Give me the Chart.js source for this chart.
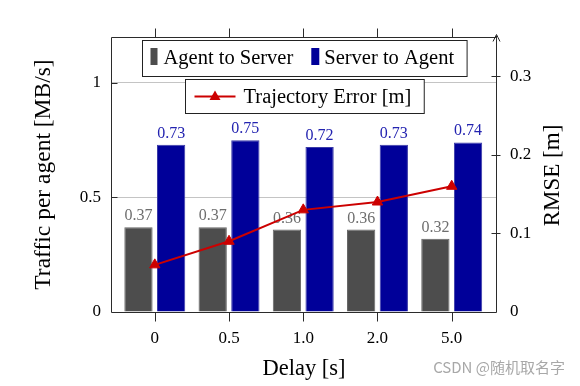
<!DOCTYPE html>
<html lang="en">
<head>
<meta charset="UTF-8">
<title>Traffic per agent vs delay</title>
<script src="https://cdn.jsdelivr.net/npm/chart.js"></script>
<style>
  body { margin: 0; background: #fff; }
  #wrap { width: 580px; height: 386px; }
</style>
</head>
<body>
<div id="wrap"><canvas id="chart" width="580" height="386"></canvas></div>
<script>
  // values
  const delays = ['0', '0.5', '1.0', '2.0', '5.0'];
  const agentToServer = [0.37, 0.37, 0.36, 0.36, 0.32];
  const serverToAgent = [0.73, 0.75, 0.72, 0.73, 0.74];
  const trajectoryError = [0.06, 0.09, 0.13, 0.14, 0.16];
  const trafficTicks = [0, 0.5, 1];
  const rmseTicks = [0, 0.1, 0.2, 0.3];
  const rmseTitle = 'RMSE [m]';

  const serif = '"Liberation Serif", "DejaVu Serif", serif';
  Chart.defaults.font.family = serif;
  Chart.defaults.color = '#000';

  const toPoints = arr => arr.map((v, i) => ({ x: i, y: v }));

  // numbers above the bars (drawn before the line so the line sits on top)
  const barLabels = {
    id: 'barLabels',
    afterDatasetDraw(chart, args) {
      const ds = chart.data.datasets[args.index];
      if (ds.type !== 'bar') return;
      const ctx = chart.ctx;
      ctx.save();
      ctx.font = '16px ' + serif;
      ctx.fillStyle = ds.labelColor;
      ctx.textAlign = 'center';
      ctx.textBaseline = 'alphabetic';
      args.meta.data.forEach((bar, i) => {
        ctx.fillText(ds.data[i].y.toFixed(2), bar.x, bar.y - 7);
      });
      ctx.restore();
    }
  };

  // box frame, tick marks, the arrow on the right axis and its title
  const axisFrame = {
    id: 'axisFrame',
    afterDatasetsDraw(chart) {
      const { ctx, chartArea: a, scales } = chart;
      const L = a.left + 0.5, R = Math.round(a.right) - 0.5, T = a.top + 0.5, B = a.bottom + 0.5;
      ctx.save();
      ctx.strokeStyle = '#2b2b2b';
      ctx.lineWidth = 1;
      ctx.beginPath();
      ctx.moveTo(L, T); ctx.lineTo(L, B); ctx.lineTo(R, B);
      ctx.moveTo(L, T); ctx.lineTo(R, T);
      ctx.moveTo(R, B); ctx.lineTo(R, T - 2);
      scales.x.ticks.forEach(t => {
        const px = Math.round(scales.x.getPixelForValue(t.value)) + 0.5;
        ctx.moveTo(px, T - 9); ctx.lineTo(px, T);
        ctx.moveTo(px, B); ctx.lineTo(px, B + 9);
      });
      scales.y.ticks.forEach(t => {
        if (t.value === 0) return;
        const py = Math.round(scales.y.getPixelForValue(t.value)) + 0.5;
        ctx.moveTo(L, py); ctx.lineTo(L + 6, py);
      });
      scales.y1.ticks.forEach(t => {
        if (t.value === 0) return;
        const py = Math.round(scales.y1.getPixelForValue(t.value)) + 0.5;
        ctx.moveTo(R - 5, py); ctx.lineTo(R + 4, py);
      });
      ctx.stroke();
      // arrow head
      ctx.beginPath();
      ctx.moveTo(R - 3.5, T + 4);
      ctx.quadraticCurveTo(R - 1, T - 1, R, T - 3);
      ctx.quadraticCurveTo(R + 1, T - 1, R + 3.5, T + 4);
      ctx.stroke();
      // right axis title, reading bottom to top like the left one
      const s = scales.y1;
      ctx.translate(s.right - 27, (a.top + a.bottom) / 2 + 1);
      ctx.rotate(-Math.PI / 2);
      ctx.font = '23px ' + serif;
      ctx.fillStyle = '#000';
      ctx.textAlign = 'center';
      ctx.textBaseline = 'middle';
      ctx.fillText(rmseTitle, 0, 0);
      ctx.restore();
    }
  };

  // pgfplots-style boxed legends plus the watermark
  const boxLegend = {
    id: 'boxLegend',
    afterDraw(chart) {
      const { ctx, chartArea: a } = chart;
      const [gray, blue, err] = chart.data.datasets;
      const cx = (a.left + a.right) / 2;
      ctx.save();
      ctx.font = '20.5px ' + serif;
      ctx.textBaseline = 'alphabetic';
      ctx.lineWidth = 1;
      ctx.strokeStyle = '#222';

      // first box: the two bar series
      const w1 = ctx.measureText(gray.label).width;
      const w2 = ctx.measureText(blue.label).width;
      const bw = 8 + 7 + 6 + w1 + 18 + 8 + 5 + w2 + 13;
      let x = Math.round(cx - bw / 2) + 0.5;
      ctx.fillStyle = '#fff';
      ctx.fillRect(x, 40.5, bw, 36);
      ctx.strokeRect(x, 40.5, bw, 36);
      let ix = x + 8;
      ctx.fillStyle = gray.backgroundColor;
      ctx.fillRect(ix, 48, 7, 17);
      ctx.fillStyle = '#000';
      ctx.fillText(gray.label, ix + 13, 63.5);
      ix += 13 + w1 + 18;
      ctx.fillStyle = blue.backgroundColor;
      ctx.fillRect(ix, 48, 8, 17);
      ctx.fillStyle = '#000';
      ctx.fillText(blue.label, ix + 13, 63.5);

      // second box: the error line
      const w3 = ctx.measureText(err.label).width;
      const bw2 = 9 + 41 + 8 + w3 + 13;
      x = Math.round(cx - bw2 / 2) + 0.5;
      ctx.fillStyle = '#fff';
      ctx.fillRect(x, 79.5, bw2, 34);
      ctx.strokeRect(x, 79.5, bw2, 34);
      const ly = 96.5;
      ctx.strokeStyle = err.borderColor;
      ctx.lineWidth = 2;
      ctx.beginPath();
      ctx.moveTo(x + 9, ly); ctx.lineTo(x + 50, ly);
      ctx.stroke();
      ctx.fillStyle = err.borderColor;
      ctx.beginPath();
      const mx = x + 29.5;
      ctx.moveTo(mx, ly - 6); ctx.lineTo(mx + 5.5, ly + 3.5); ctx.lineTo(mx - 5.5, ly + 3.5);
      ctx.closePath();
      ctx.fill();
      ctx.fillStyle = '#000';
      ctx.fillText(err.label, x + 58, 103);

      // watermark
      ctx.font = '15px "Noto Sans CJK SC", "Noto Sans", sans-serif';
      ctx.fillStyle = '#a8a8a8';
      ctx.textAlign = 'right';
      ctx.fillText('CSDN @随机取名字', 565, 373);
      ctx.restore();
    }
  };

  new Chart(document.getElementById('chart'), {
    type: 'bar',
    data: {
      datasets: [
        {
          type: 'bar', label: 'Agent to Server', data: toPoints(agentToServer),
          backgroundColor: '#4d4d4d', borderColor: '#666666', borderWidth: 1,
          labelColor: '#6e6e6e', yAxisID: 'y', order: 1,
          categoryPercentage: 0.88, barPercentage: 0.866
        },
        {
          type: 'bar', label: 'Server to Agent', data: toPoints(serverToAgent),
          backgroundColor: '#000099', borderColor: '#3a3aa8', borderWidth: 1,
          labelColor: '#2323b0', yAxisID: 'y', order: 1,
          categoryPercentage: 0.88, barPercentage: 0.866
        },
        {
          type: 'line', label: 'Trajectory Error [m]', data: toPoints(trajectoryError),
          borderColor: '#cc0000', backgroundColor: '#cc0000', borderWidth: 2,
          pointStyle: 'triangle', pointRadius: 6, pointHoverRadius: 6,
          pointBorderWidth: 1, tension: 0, yAxisID: 'y1', order: 0
        }
      ]
    },
    options: {
      responsive: false,
      animation: false,
      layout: { padding: { top: 37, left: 0, right: 0, bottom: 0 } },
      plugins: { legend: { display: false }, tooltip: { enabled: false } },
      scales: {
        x: {
          type: 'linear', min: -0.59, max: 4.61, offset: false,
          afterBuildTicks: s => { s.ticks = delays.map((_, i) => ({ value: i })); },
          ticks: { callback: v => delays[v], font: { size: 17 }, padding: 16, maxRotation: 0, autoSkip: false },
          grid: { display: false, drawTicks: false },
          border: { display: false },
          title: { display: true, text: 'Delay [s]', font: { size: 22.5 }, padding: { top: 0, bottom: 3 } },
          afterFit: s => { s.height = 74; }
        },
        y: {
          position: 'left', min: 0, max: 1.2,
          afterBuildTicks: s => { s.ticks = trafficTicks.map(v => ({ value: v })); },
          ticks: { callback: v => String(v), font: { size: 17 }, padding: 10 },
          grid: { drawTicks: false, color: c => (c.tick && c.tick.value === 0) ? 'rgba(0,0,0,0)' : '#c4c4c4' },
          border: { display: false },
          title: { display: true, text: 'Traffic per agent [MB/s]', font: { size: 23.5 }, padding: { top: 30, bottom: 0 } },
          afterFit: s => { s.width = 111; }
        },
        y1: {
          position: 'right', min: 0, max: 0.35,
          afterBuildTicks: s => { s.ticks = rmseTicks.map(v => ({ value: v })); },
          ticks: { callback: v => String(v), font: { size: 17 }, padding: 13 },
          grid: { display: false, drawTicks: false },
          border: { display: false },
          title: { display: false },
          afterFit: s => { s.width = 83; }
        }
      }
    },
    plugins: [barLabels, axisFrame, boxLegend]
  });
</script>
</body>
</html>
